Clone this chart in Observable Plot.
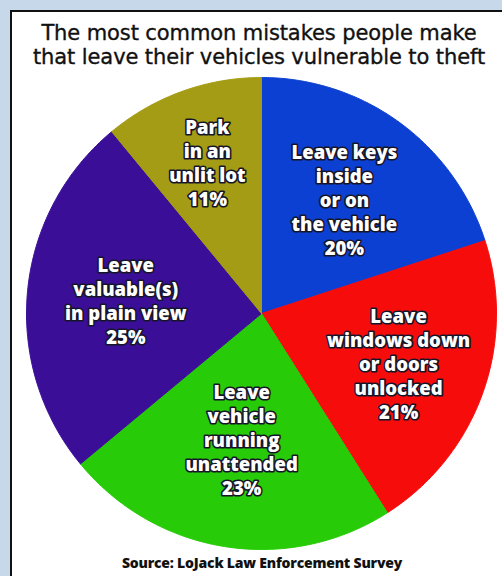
<!DOCTYPE html>
<html><head><meta charset="utf-8">
<script src="https://cdn.jsdelivr.net/npm/d3@7"></script>
<script src="https://cdn.jsdelivr.net/npm/@observablehq/plot@0.6"></script>
<style>
html,body{margin:0;padding:0;width:502px;height:576px;overflow:hidden;background:#c6d8ea;}
#frame{position:absolute;left:10px;top:10px;width:520px;height:600px;background:#fff;border-left:2.5px solid #111;border-top:2.5px solid #111;}
#title{position:absolute;left:9px;top:21px;width:500px;text-align:center;font-family:"DejaVu Sans";font-size:21px;line-height:24px;color:#111;white-space:nowrap;-webkit-text-stroke:0.35px #111;letter-spacing:-0.1px;}
#chart{position:absolute;left:0;top:70px;}
#source{position:absolute;left:12px;top:554px;width:500px;text-align:center;font:800 14px/18px "Open Sans";color:#111;letter-spacing:-0.2px;}
</style>
</head><body>
<div id="frame"></div>
<div id="title">The most common mistakes people make<br>that leave their vehicles vulnerable to theft</div>
<div id="chart"></div>
<div id="source">Source: LoJack Law Enforcement Survey</div>
<script>
// ---- data ----
const categories = [
  "Leave keys inside or on the vehicle",
  "Leave windows down or doors unlocked",
  "Leave vehicle running unattended",
  "Leave valuable(s) in plain view",
  "Park in an unlit lot"
];
const labels = [
  "Leave keys\ninside\nor on\nthe vehicle\n20%",
  "Leave\nwindows down\nor doors\nunlocked\n21%",
  "Leave\nvehicle\nrunning\nunattended\n23%",
  "Leave\nvaluable(s)\nin plain view\n25%",
  "Park\nin an\nunlit lot\n11%"
];
const values = [20, 21, 23, 25, 11];

// ---- styles / layout ----
const colors = ["#0c40d2", "#f70c0c", "#27cb07", "#3b0e98", "#a39c14"];
const labelRadius = [0.6, 0.62, 0.54, 0.58, 0.68];

const total = d3.sum(values);
let acc = 0;
const slices = values.map((v, i) => {
  const a0 = acc / total * 2 * Math.PI; acc += v;
  const a1 = acc / total * 2 * Math.PI;
  return {key: categories[i], value: v, a0, a1, label: labels[i], r: labelRadius[i]};
});
const pts = [];
for (const s of slices) {
  pts.push({key: s.key, x: 0, y: 0});
  const n = Math.max(2, Math.ceil((s.a1 - s.a0) / (Math.PI / 360)));
  for (let k = 0; k <= n; k++) {
    const a = s.a0 + (s.a1 - s.a0) * k / n;
    pts.push({key: s.key, x: Math.sin(a), y: Math.cos(a)});
  }
  pts.push({key: s.key, x: 0, y: 0});
}
const labelData = slices.map(s => {
  const m = (s.a0 + s.a1) / 2;
  return {key: s.key, text: s.label, x: s.r * Math.sin(m), y: s.r * Math.cos(m)};
});

const chart = Plot.plot({
  width: 502, height: 490, margin: 0,
  style: {background: "transparent", overflow: "visible"},
  x: {domain: [-1, 1], range: [26, 496], axis: null},
  y: {domain: [-1, 1], range: [479, 7], axis: null},
  color: {domain: categories, range: colors},
  marks: [
    Plot.line(pts, {x: "x", y: "y", z: "key", fill: "key", stroke: "key", strokeWidth: 1, curve: "linear"}),
    Plot.text(labelData, {x: "x", y: "y", text: "text", fill: "white", stroke: "#15152a", strokeWidth: 3.2,
      fontSize: 18.5, fontWeight: 800, fontFamily: "Open Sans", lineHeight: 1.3})
  ]
});
document.getElementById("chart").appendChild(chart);
</script>
</body></html>
